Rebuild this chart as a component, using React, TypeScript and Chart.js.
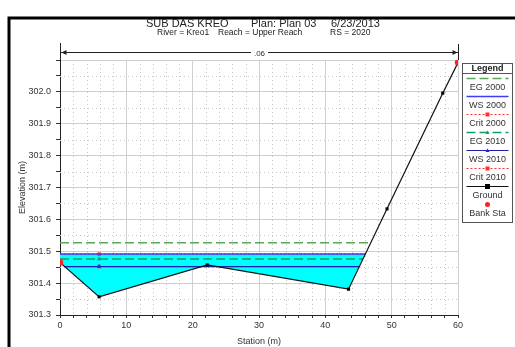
import React, { useEffect, useRef } from "react";
import { Chart, registerables } from "chart.js";
Chart.register(...registerables);

// ---- data ----
const groundStation = [0, 5.9, 22.2, 43.5, 49.3, 57.7, 60];
const groundElev = [301.465, 301.357, 301.457, 301.381, 301.633, 301.996, 302.092];
const bankStation = [0, 60];
const bankElev = [301.465, 302.092];
const profileNames = ["EG 2000", "WS 2000", "Crit 2000", "EG 2010", "WS 2010", "Crit 2010"];
const profileElev = [301.527, 301.491, 301.491, 301.476, 301.452, 301.452];
const markerStation = 5.9;
const xTickLabels = [0, 10, 20, 30, 40, 50, 60];
const yTickLabels = [301.3, 301.4, 301.5, 301.6, 301.7, 301.8, 301.9, 302.0];
const nValueLabel = ".06";
const nValueRange = [0, 60];
const titleParts = ["SUB DAS KREO", "Plan: Plan 03", "6/23/2013"];
const subtitleParts = ["River = Kreo1", "Reach = Upper Reach", "RS = 2020"];

const FONT = "'Liberation Sans', Arial, sans-serif";

function interp(x0: number, y0: number, x1: number, y1: number, y: number) {
  return x0 + ((y - y0) * (x1 - x0)) / (y1 - y0);
}
function wetExtent(elev: number) {
  const n = groundStation.length;
  let left = groundStation[0];
  if (groundElev[0] > elev) {
    for (let i = 0; i < n - 1; i++) {
      if (groundElev[i] > elev && groundElev[i + 1] <= elev) {
        left = interp(groundStation[i], groundElev[i], groundStation[i + 1], groundElev[i + 1], elev);
        break;
      }
    }
  }
  let right = groundStation[n - 1];
  if (groundElev[n - 1] > elev) {
    for (let i = n - 1; i > 0; i--) {
      if (groundElev[i] > elev && groundElev[i - 1] <= elev) {
        right = interp(groundStation[i - 1], groundElev[i - 1], groundStation[i], groundElev[i], elev);
        break;
      }
    }
  }
  return [left, right];
}
function groundAt(x: number) {
  for (let i = 0; i < groundStation.length - 1; i++) {
    if (x >= groundStation[i] && x <= groundStation[i + 1]) {
      const t = (x - groundStation[i]) / (groundStation[i + 1] - groundStation[i]);
      return groundElev[i] + t * (groundElev[i + 1] - groundElev[i]);
    }
  }
  return groundElev[groundElev.length - 1];
}
function waterPolygon(elev: number) {
  const [l, r] = wetExtent(elev);
  const pts: { x: number; y: number }[] = [{ x: l, y: elev }];
  const gl = groundAt(l);
  if (gl < elev) pts.push({ x: l, y: gl });
  groundStation.forEach((s, i) => {
    if (s > l && s < r) pts.push({ x: s, y: groundElev[i] });
  });
  pts.push({ x: r, y: elev });
  pts.push({ x: l, y: elev });
  return pts;
}
function profileLine(elev: number) {
  const [l, r] = wetExtent(elev);
  return [
    { x: l, y: elev },
    { x: markerStation, y: elev },
    { x: r, y: elev },
  ];
}

const styles = [
  { color: "#5aa55a", dash: [9, 4], width: 1.5, marker: null as string | null, mcolor: "" },
  { color: "#3c3cff", dash: [], width: 1.5, marker: null, mcolor: "" },
  { color: "#ff3030", dash: [2, 2], width: 1.2, marker: "rect", mcolor: "#ff3030" },
  { color: "#10a060", dash: [9, 4], width: 1.5, marker: "triangle", mcolor: "#10a060" },
  { color: "#2020b0", dash: [], width: 1.2, marker: "triangle", mcolor: "#2020ff" },
  { color: "#ff3030", dash: [2, 2], width: 1.2, marker: "rect", mcolor: "#ff3030" },
];
const profileOrder = [6, 5, 7, 4, 3, 8];

function drawMarker(ctx: CanvasRenderingContext2D, style: string, x: number, y: number, r: number, color: string) {
  ctx.save();
  ctx.fillStyle = color;
  ctx.beginPath();
  if (style === "triangle") {
    ctx.moveTo(x, y - r);
    ctx.lineTo(x + r, y + r * 0.8);
    ctx.lineTo(x - r, y + r * 0.8);
    ctx.closePath();
  } else if (style === "rect") {
    ctx.rect(x - r, y - r, 2 * r, 2 * r);
  } else {
    ctx.arc(x, y, r, 0, Math.PI * 2);
  }
  ctx.fill();
  ctx.restore();
}

const minorGrid = {
  id: "minorGrid",
  beforeDatasetsDraw(chart: any) {
    const { ctx, chartArea: a, scales } = chart;
    ctx.save();
    ctx.strokeStyle = "#c4c4c4";
    ctx.lineWidth = 1;
    ctx.setLineDash([1, 3]);
    scales.x.ticks.forEach((t: any) => {
      if (Math.round(t.value) % 10 !== 0) {
        const px = Math.round(scales.x.getPixelForValue(t.value)) + 0.5;
        ctx.beginPath();
        ctx.moveTo(px, a.top);
        ctx.lineTo(px, a.bottom);
        ctx.stroke();
      }
    });
    scales.y.ticks.forEach((t: any) => {
      if (Math.round(t.value * 100) % 10 !== 0) {
        const py = Math.round(scales.y.getPixelForValue(t.value)) + 0.5;
        ctx.beginPath();
        ctx.moveTo(a.left, py);
        ctx.lineTo(a.right, py);
        ctx.stroke();
      }
    });
    ctx.restore();
  },
};

const decorations = {
  id: "decorations",
  afterDraw(chart: any) {
    const { ctx, scales } = chart;
    ctx.save();
    // frame
    ctx.strokeStyle = "#000";
    ctx.lineWidth = 3;
    ctx.beginPath();
    ctx.moveTo(9, 347);
    ctx.lineTo(9, 18);
    ctx.lineTo(515, 18);
    ctx.stroke();

    // titles
    ctx.fillStyle = "#222";
    ctx.textBaseline = "middle";
    ctx.textAlign = "left";
    ctx.font = `11px ${FONT}`;
    const tx = [146, 251, 331];
    titleParts.forEach((t, i) => ctx.fillText(t, tx[i], 23.5));
    ctx.font = `8.5px ${FONT}`;
    const sx = [157, 218, 330];
    subtitleParts.forEach((t, i) => ctx.fillText(t, sx[i], 33));

    // n-value bracket
    const x0 = Math.round(scales.x.getPixelForValue(nValueRange[0])) + 0.5;
    const x1 = Math.round(scales.x.getPixelForValue(nValueRange[1])) + 0.5;
    const yb = 52.5;
    ctx.strokeStyle = "#222";
    ctx.lineWidth = 1;
    ctx.beginPath();
    ctx.moveTo(x0, yb);
    ctx.lineTo(x1, yb);
    ctx.moveTo(x0, 43);
    ctx.lineTo(x0, 60);
    ctx.moveTo(x1, 44);
    ctx.lineTo(x1, 60);
    ctx.stroke();
    ctx.fillStyle = "#222";
    ctx.beginPath();
    ctx.moveTo(x0 + 1, yb);
    ctx.lineTo(x0 + 6, yb - 2.5);
    ctx.lineTo(x0 + 6, yb + 2.5);
    ctx.closePath();
    ctx.fill();
    ctx.beginPath();
    ctx.moveTo(x1 - 1, yb);
    ctx.lineTo(x1 - 6, yb - 2.5);
    ctx.lineTo(x1 - 6, yb + 2.5);
    ctx.closePath();
    ctx.fill();
    ctx.font = `8px ${FONT}`;
    const cx = (x0 + x1) / 2;
    const tw = ctx.measureText(nValueLabel).width;
    ctx.fillStyle = "#fff";
    ctx.fillRect(cx - tw / 2 - 3, yb - 4, tw + 6, 8);
    ctx.fillStyle = "#333";
    ctx.textAlign = "center";
    ctx.fillText(nValueLabel, cx, yb + 1);

    // legend
    const bx = 462.5, by = 63.5, bw = 50, bh = 159;
    ctx.fillStyle = "#fff";
    ctx.fillRect(bx, by, bw, bh);
    ctx.strokeStyle = "#555";
    ctx.lineWidth = 1;
    ctx.strokeRect(bx, by, bw, bh);
    ctx.beginPath();
    ctx.moveTo(bx, 73.5);
    ctx.lineTo(bx + bw, 73.5);
    ctx.stroke();
    ctx.fillStyle = "#222";
    ctx.font = `bold 9px ${FONT}`;
    ctx.fillText("Legend", bx + bw / 2, 68.5);
    ctx.font = `9px ${FONT}`;
    const lx0 = bx + 4, lx1 = bx + bw - 4, lcx = bx + bw / 2;
    const step = 18;
    profileNames.forEach((name, i) => {
      const s = styles[i];
      const ly = 78.5 + i * step;
      ctx.save();
      ctx.strokeStyle = s.color;
      ctx.lineWidth = s.width;
      ctx.setLineDash(s.dash);
      ctx.beginPath();
      ctx.moveTo(lx0, ly);
      ctx.lineTo(lx1, ly);
      ctx.stroke();
      ctx.restore();
      if (s.marker) drawMarker(ctx, s.marker, lcx, ly, 2, s.mcolor);
      ctx.fillStyle = "#333";
      ctx.fillText(name, lcx, ly + 9);
    });
    let ly = 78.5 + 6 * step;
    ctx.strokeStyle = "#111";
    ctx.lineWidth = 1.2;
    ctx.beginPath();
    ctx.moveTo(lx0, ly);
    ctx.lineTo(lx1, ly);
    ctx.stroke();
    drawMarker(ctx, "rect", lcx, ly, 2.5, "#000");
    ctx.fillStyle = "#333";
    ctx.fillText("Ground", lcx, ly + 9);
    ly += step;
    drawMarker(ctx, "circle", lcx, ly, 2.5, "#ff2020");
    ctx.fillStyle = "#333";
    ctx.fillText("Bank Sta", lcx, ly + 9);
    ctx.restore();
  },
};

export default function App() {
  const ref = useRef<HTMLCanvasElement>(null);
  useEffect(() => {
    const datasets: any[] = [];
    datasets.push({
      label: "water",
      data: waterPolygon(profileElev[1]),
      fill: "shape",
      backgroundColor: "#00ffff",
      borderColor: "transparent",
      borderWidth: 0,
      pointRadius: 0,
      order: 20,
    });
    profileNames.forEach((name, i) => {
      const s = styles[i];
      datasets.push({
        label: name,
        data: profileLine(profileElev[i]),
        borderColor: s.color,
        borderWidth: s.width,
        borderDash: s.dash,
        fill: false,
        pointRadius: s.marker ? [0, 2.5, 0] : 0,
        pointStyle: s.marker || "circle",
        pointBackgroundColor: s.mcolor || s.color,
        pointBorderColor: s.mcolor || s.color,
        pointBorderWidth: 0,
        order: profileOrder[i],
      });
    });
    datasets.push({
      label: "Ground",
      data: groundStation.map((x, i) => ({ x, y: groundElev[i] })),
      borderColor: "#111",
      borderWidth: 1.2,
      fill: false,
      pointStyle: "rect",
      pointRadius: 2.2,
      pointBackgroundColor: "#000",
      pointBorderColor: "#000",
      pointBorderWidth: 0,
      order: 1,
    });
    datasets.push({
      label: "Bank Sta",
      data: bankStation.map((x, i) => ({ x, y: bankElev[i] })),
      showLine: false,
      pointStyle: "circle",
      pointRadius: 3.2,
      pointBackgroundColor: "#ff2020",
      pointBorderColor: "#ff2020",
      pointBorderWidth: 0,
      order: 0,
    });

    const chart = new Chart(ref.current!, {
      type: "line",
      data: { datasets },
      options: {
        animation: false,
        responsive: false,
        events: [],
        layout: { padding: { left: 0, top: 60, right: 57, bottom: 0 } },
        plugins: { legend: { display: false }, tooltip: { enabled: false } },
        scales: {
          x: {
            type: "linear",
            min: xTickLabels[0],
            max: xTickLabels[xTickLabels.length - 1],
            afterFit: (s: any) => {
              s.height = 32;
            },
            ticks: {
              stepSize: 2,
              autoSkip: false,
              maxRotation: 0,
              padding: 2,
              color: "#333",
              font: { family: FONT, size: 9 },
              callback: (v: any) => (xTickLabels.includes(Math.round(Number(v))) && Math.round(Number(v)) % 10 === 0 ? String(Math.round(Number(v))) : ""),
            },
            grid: {
              color: (c: any) => (Math.round(c.tick?.value ?? 1) % 10 === 0 ? "#cfcfcf" : "transparent"),
              tickColor: "#333",
              tickLength: 3,
            },
            border: { color: "#222", width: 1 },
            title: {
              display: true,
              text: "Station (m)",
              color: "#333",
              font: { family: FONT, size: 9 },
              padding: { top: 0, bottom: 0 },
            },
          },
          y: {
            type: "linear",
            min: 301.3,
            max: 302.1,
            afterFit: (s: any) => {
              s.width = 60;
            },
            ticks: {
              stepSize: 0.05,
              autoSkip: false,
              padding: 5,
              color: "#333",
              font: { family: FONT, size: 9 },
              callback: (v: any) => {
                const n = Math.round(Number(v) * 100);
                const hit = yTickLabels.find((t) => Math.round(t * 100) === n);
                return hit !== undefined ? hit.toFixed(1) : "";
              },
            },
            grid: {
              color: (c: any) => (Math.round((c.tick?.value ?? 0) * 100) % 10 === 0 ? "#cfcfcf" : "transparent"),
              tickColor: "#333",
              tickLength: 4,
            },
            border: { color: "#222", width: 1 },
            title: {
              display: true,
              text: "Elevation (m)",
              color: "#333",
              font: { family: FONT, size: 9 },
              padding: { top: 17, bottom: 0 },
            },
          },
        },
      },
      plugins: [minorGrid, decorations],
    } as any);
    return () => chart.destroy();
  }, []);
  return (
    <div style={{ position: "fixed", left: 0, top: 0, width: 515, height: 347, background: "#fff" }}>
      <canvas ref={ref} width={515} height={347} style={{ display: "block", width: 515, height: 347 }} />
    </div>
  );
}
